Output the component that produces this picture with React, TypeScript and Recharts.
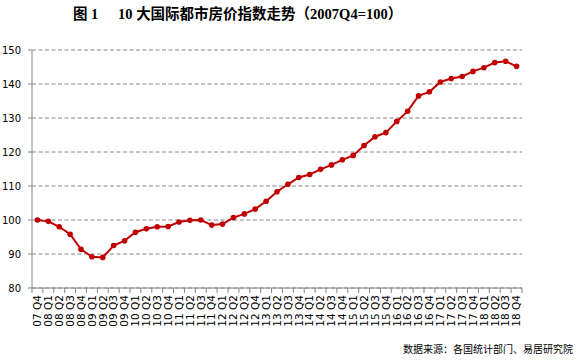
import { LineChart, Line, XAxis, YAxis, CartesianGrid } from 'recharts'

const quarters = [
  '07 Q4',
  '08 Q1', '08 Q2', '08 Q3', '08 Q4',
  '09 Q1', '09 Q2', '09 Q3', '09 Q4',
  '10 Q1', '10 Q2', '10 Q3', '10 Q4',
  '11 Q1', '11 Q2', '11 Q3', '11 Q4',
  '12 Q1', '12 Q2', '12 Q3', '12 Q4',
  '13 Q1', '13 Q2', '13 Q3', '13 Q4',
  '14 Q1', '14 Q2', '14 Q3', '14 Q4',
  '15 Q1', '15 Q2', '15 Q3', '15 Q4',
  '16 Q1', '16 Q2', '16 Q3', '16 Q4',
  '17 Q1', '17 Q2', '17 Q3', '17 Q4',
  '18 Q1', '18 Q2', '18 Q3', '18 Q4',
]

const indexValues = [
  100.0,
  99.6, 98.0, 95.8, 91.4,
  89.2, 89.0, 92.5, 93.9,
  96.4, 97.4, 98.0, 98.1,
  99.4, 99.9, 100.0, 98.5,
  98.8, 100.7, 101.8, 103.2,
  105.5, 108.3, 110.5, 112.5,
  113.4, 114.9, 116.2, 117.7,
  119.0, 121.9, 124.5, 125.7,
  129.0, 132.0, 136.5, 137.7,
  140.6, 141.6, 142.2, 143.7,
  144.8, 146.3, 146.7, 145.2,
]

const yTicks = [80, 90, 100, 110, 120, 130, 140, 150]

const data = quarters.map((q, i) => ({ q, v: indexValues[i] }))

// plot geometry
const W = 582
const H = 360
const PLOT_LEFT = 32
const PLOT_RIGHT = 522
const PLOT_TOP = 50
const PLOT_BOTTOM = 288
const HALF_BAND = (PLOT_RIGHT - PLOT_LEFT) / quarters.length / 2

const AXIS_GREY = '#868686'
const RED = '#C00000'

function QuarterTick(props: any) {
  const { x, y, payload, index } = props
  const last = index === quarters.length - 1
  return (
    <g transform={`translate(${x},${y})`}>
      <line x1={-HALF_BAND} y1={0} x2={-HALF_BAND} y2={5} stroke={AXIS_GREY} />
      {last && <line x1={HALF_BAND} y1={0} x2={HALF_BAND} y2={5} stroke={AXIS_GREY} />}
      <text
        transform="rotate(-90)"
        x={-7}
        y={0}
        dy="0.36em"
        textAnchor="end"
        fontSize={10.5}
        fontFamily="DejaVu Sans"
        fill="#000"
      >
        {payload.value}
      </text>
    </g>
  )
}

export default function App() {
  return (
    <div style={{ position: 'absolute', left: 0, top: 0, width: W, height: H, background: '#fff' }}>
      <div
        style={{
          position: 'absolute',
          left: 73,
          top: 4,
          fontSize: 14.5,
          fontWeight: 'bold',
          fontFamily: "'Liberation Serif', 'Noto Sans CJK SC'",
          whiteSpace: 'pre',
          lineHeight: '20px',
        }}
      >
        图 1
      </div>
      <div
        style={{
          position: 'absolute',
          left: 118,
          top: 4,
          fontSize: 14.5,
          fontWeight: 'bold',
          fontFamily: "'Liberation Serif', 'Noto Sans CJK SC'",
          whiteSpace: 'pre',
          lineHeight: '20px',
        }}
      >
        10 大国际都市房价指数走势（2007Q4=100）
      </div>
      <LineChart
        width={W}
        height={H}
        data={data}
        margin={{ top: PLOT_TOP, right: W - PLOT_RIGHT, bottom: 0, left: 0 }}
      >
        <CartesianGrid
          vertical={false}
          stroke={AXIS_GREY}
          strokeDasharray="4 2.5"
        />
        <XAxis
          dataKey="q"
          scale="band"
          interval={0}
          height={H - PLOT_BOTTOM}
          stroke={AXIS_GREY}
          tickLine={false}
          tickSize={0}
          tickMargin={0}
          tick={<QuarterTick />}
        />
        <YAxis
          width={PLOT_LEFT}
          domain={[80, 150]}
          ticks={yTicks}
          stroke={AXIS_GREY}
          tickSize={4}
          tickMargin={7}
          tick={{ fill: '#000', fontSize: 10, fontFamily: 'DejaVu Sans' }}
        />
        <Line
          dataKey="v"
          stroke={RED}
          strokeWidth={2}
          dot={{ r: 2.8, fill: RED, stroke: RED, strokeWidth: 0 }}
          isAnimationActive={false}
        />
      </LineChart>
      <div
        style={{
          position: 'absolute',
          left: 403,
          top: 342,
          fontSize: 10,
          fontFamily: "'Noto Sans CJK SC'",
          whiteSpace: 'pre',
          lineHeight: '14px',
        }}
      >
        数据来源：各国统计部门、易居研究院
      </div>
    </div>
  )
}
